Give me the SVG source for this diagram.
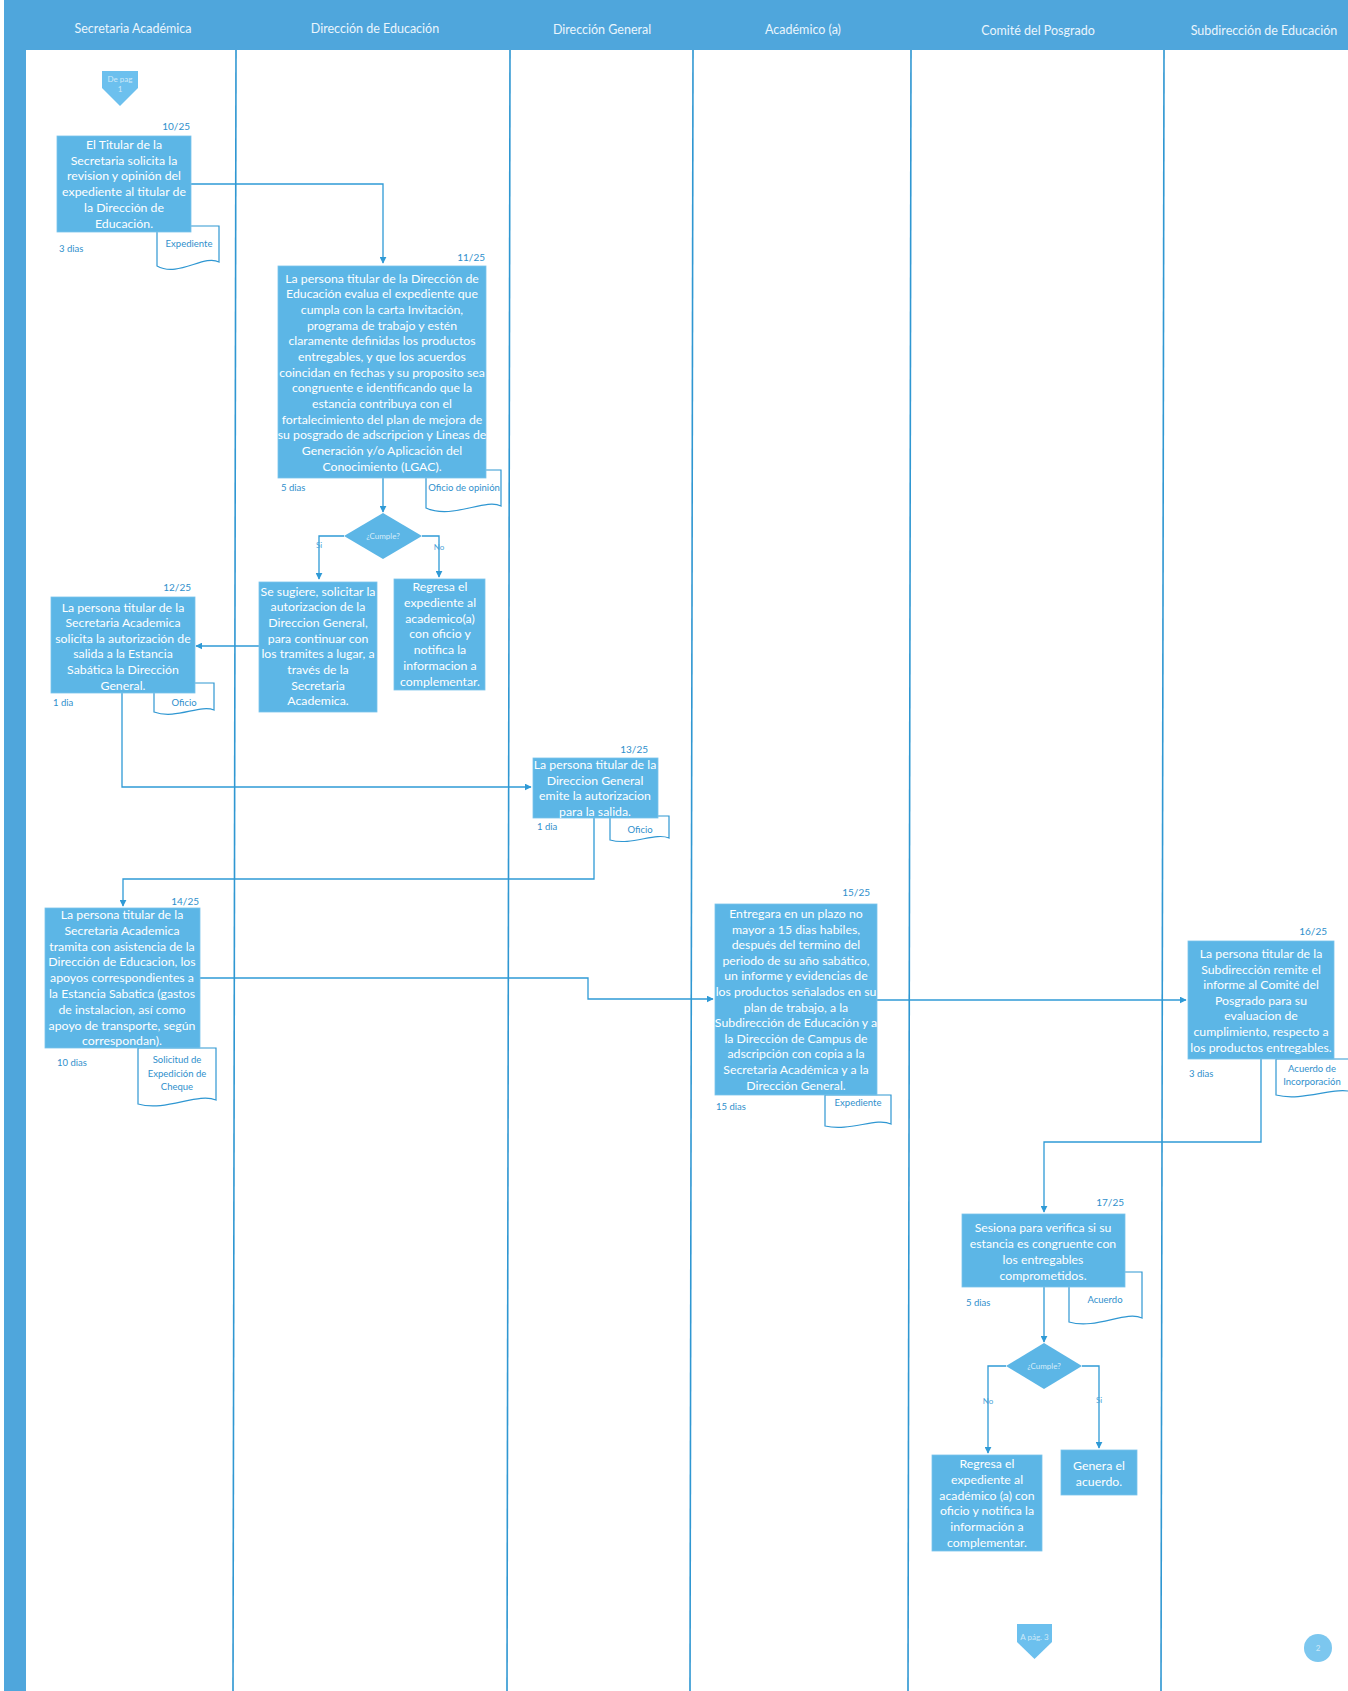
<svg xmlns="http://www.w3.org/2000/svg" width="1348" height="1691" viewBox="0 0 1348 1691">
<defs>
<marker id="ah" viewBox="0 0 10 10" refX="9" refY="5" markerWidth="7" markerHeight="7" orient="auto" markerUnits="userSpaceOnUse">
<path d="M0,0 L10,5 L0,10 Z" fill="#2f9ad6"/>
</marker>
<style>
.bg{fill:#ffffff}
.band{fill:#4fa6dc}
.lane{stroke:#2f97d2;stroke-width:1.6;fill:none}
.hd{font-family:Lato,"Liberation Sans",sans-serif;font-size:12.5px;fill:#eaf5fc;text-anchor:middle}
.box{fill:#5cb6e6;stroke:#79c3ec;stroke-width:0.8}
.bt{font-family:Lato,"Liberation Sans",sans-serif;font-size:12.3px;fill:#ffffff;text-anchor:middle}
.num{font-family:Lato,"Liberation Sans",sans-serif;font-size:10px;fill:#2f8fcc;text-anchor:end}
.dur{font-family:Lato,"Liberation Sans",sans-serif;font-size:9.5px;fill:#2f8fcc}
.doc{fill:#ffffff;stroke:#2f97d2;stroke-width:1.2}
.dt{font-family:Lato,"Liberation Sans",sans-serif;font-size:9.5px;fill:#2f8fcc;text-anchor:middle}
.con{stroke:#2f9ad6;stroke-width:1.3;fill:none}
.dia{fill:#5cb6e6}
.diat{font-family:Lato,"Liberation Sans",sans-serif;font-size:8px;fill:#d6ecf9;text-anchor:middle}
.lbl{font-family:Lato,"Liberation Sans",sans-serif;font-size:8px;fill:#4aa3d8;text-anchor:middle}
.off{fill:#6cc0ee}
.offt{font-family:Lato,"Liberation Sans",sans-serif;font-size:8px;fill:#cfe9f8;text-anchor:middle}
</style>
</defs>
<rect class="bg" x="0" y="0" width="1348" height="1691"/>
<g id="frame">
<rect class="band" x="4" y="0" width="1344" height="50"/>
<rect class="band" x="4" y="0" width="22" height="1691"/>
<line class="lane" x1="236" y1="50" x2="233" y2="1691"/>
<line class="lane" x1="510" y1="50" x2="507" y2="1691"/>
<line class="lane" x1="693" y1="50" x2="690" y2="1691"/>
<line class="lane" x1="911" y1="50" x2="908" y2="1691"/>
<line class="lane" x1="1164" y1="50" x2="1161" y2="1691"/>
<text class="hd" x="133" y="33">Secretaria Académica</text>
<text class="hd" x="375" y="33">Dirección de Educación</text>
<text class="hd" x="602" y="34">Dirección General</text>
<text class="hd" x="803" y="34">Académico (a)</text>
<text class="hd" x="1038" y="35">Comité del Posgrado</text>
<text class="hd" x="1264" y="35">Subdirección de Educación</text>
</g>
<g id="connectors">
<polyline class="con" points="191,184 383,184 383,263" marker-end="url(#ah)"/>
<polyline class="con" points="383,478 383,512" marker-end="url(#ah)"/>
<polyline class="con" points="344,536 319,536 319,579" marker-end="url(#ah)"/>
<polyline class="con" points="422,536 439,536 439,577" marker-end="url(#ah)"/>
<polyline class="con" points="259,646 196,646" marker-end="url(#ah)"/>
<polyline class="con" points="122,693 122,787 531,787" marker-end="url(#ah)"/>
<polyline class="con" points="594,818 594,879 123,879 123,906" marker-end="url(#ah)"/>
<polyline class="con" points="200,978 588,978 588,999 713,999" marker-end="url(#ah)"/>
<polyline class="con" points="877,1000 1186,1000" marker-end="url(#ah)"/>
<polyline class="con" points="1261,1059 1261,1142 1044,1142 1044,1212" marker-end="url(#ah)"/>
<polyline class="con" points="1044,1287 1044,1342" marker-end="url(#ah)"/>
<polyline class="con" points="1006,1366 988,1366 988,1453" marker-end="url(#ah)"/>
<polyline class="con" points="1082,1366 1099,1366 1099,1448" marker-end="url(#ah)"/>
<text class="lbl" x="319" y="548">Si</text>
<text class="lbl" x="439" y="550">No</text>
<text class="lbl" x="988" y="1404">No</text>
<text class="lbl" x="1099" y="1403">Si</text>
</g>
<g id="off1">
<path class="off" d="M102,71 H138 V88 L120,106 L102,88 Z"/>
<text class="offt" x="120" y="82">De pag</text>
<text class="offt" x="120" y="92">1</text>
</g>
<g id="n10">
<path class="doc" d="M157,226 H219 V262 C204,254 178,278 157,266 Z"/>
<text class="dt" x="189" y="247">Expediente</text>
<rect class="box" x="57" y="136" width="134" height="96"/>
<text class="num" x="190" y="130">10/25</text>
<text class="dur" x="59" y="252">3 dias</text>
<text class="bt" x="124" y="149">El Titular de la</text>
<text class="bt" x="124" y="164.7">Secretaria solicita la</text>
<text class="bt" x="124" y="180.4">revision y opinión del</text>
<text class="bt" x="124" y="196.1">expediente al titular de</text>
<text class="bt" x="124" y="211.8">la Dirección de</text>
<text class="bt" x="124" y="227.5">Educación.</text>
</g>
<g id="n11">
<path class="doc" d="M426,470 H501 V506 C485,498 452,520 426,508 Z"/>
<text class="dt" x="464" y="491">Oficio de opinión</text>
<rect class="box" x="278" y="266" width="208" height="212"/>
<text class="num" x="485" y="261">11/25</text>
<text class="dur" x="281" y="491">5 dias</text>
<text class="bt" x="382" y="282.5">La persona titular de la Dirección de</text>
<text class="bt" x="382" y="298.2">Educación evalua el expediente que</text>
<text class="bt" x="382" y="313.8">cumpla con la carta Invitación,</text>
<text class="bt" x="382" y="329.5">programa de trabajo y estén</text>
<text class="bt" x="382" y="345.2">claramente definidas los productos</text>
<text class="bt" x="382" y="360.8">entregables, y que los acuerdos</text>
<text class="bt" x="382" y="376.5">coincidan en fechas y su proposito sea</text>
<text class="bt" x="382" y="392.2">congruente e identificando que la</text>
<text class="bt" x="382" y="407.8">estancia contribuya con el</text>
<text class="bt" x="382" y="423.5">fortalecimiento del plan de mejora de</text>
<text class="bt" x="382" y="439.2">su posgrado de adscripcion y Lineas de</text>
<text class="bt" x="382" y="454.8">Generación y/o Aplicación del</text>
<text class="bt" x="382" y="470.5">Conocimiento (LGAC).</text>
</g>
<g id="d1">
<polygon class="dia" points="383,513 422,536 383,559 344,536"/>
<text class="diat" x="383" y="539">¿Cumple?</text>
</g>
<g id="nsug">
<rect class="box" x="259" y="582" width="118" height="130"/>
<text class="bt" x="318" y="595.5">Se sugiere, solicitar la</text>
<text class="bt" x="318" y="611.2">autorizacion de la</text>
<text class="bt" x="318" y="626.9">Direccion General,</text>
<text class="bt" x="318" y="642.6">para continuar con</text>
<text class="bt" x="318" y="658.3">los tramites a lugar, a</text>
<text class="bt" x="318" y="674">través de la</text>
<text class="bt" x="318" y="689.7">Secretaria</text>
<text class="bt" x="318" y="705.4">Academica.</text>
</g>
<g id="nreg1">
<rect class="box" x="394" y="579" width="91" height="111"/>
<text class="bt" x="440" y="591">Regresa el</text>
<text class="bt" x="440" y="606.8">expediente al</text>
<text class="bt" x="440" y="622.6">academico(a)</text>
<text class="bt" x="440" y="638.4">con oficio y</text>
<text class="bt" x="440" y="654.2">notifica la</text>
<text class="bt" x="440" y="670">informacion a</text>
<text class="bt" x="440" y="685.8">complementar.</text>
</g>
<g id="n12">
<path class="doc" d="M154,683 H214 V710 C200,704 176,720 154,712 Z"/>
<text class="dt" x="184" y="706">Oficio</text>
<rect class="box" x="51" y="597" width="144" height="96"/>
<text class="num" x="191" y="591">12/25</text>
<text class="dur" x="53" y="706">1 dia</text>
<text class="bt" x="123" y="611.5">La persona titular de la</text>
<text class="bt" x="123" y="627.1">Secretaria Academica</text>
<text class="bt" x="123" y="642.7">solicita la autorización de</text>
<text class="bt" x="123" y="658.3">salida a la Estancia</text>
<text class="bt" x="123" y="673.9">Sabática la Dirección</text>
<text class="bt" x="123" y="689.5">General.</text>
</g>
<g id="n13">
<path class="doc" d="M610,816 H669 V838 C655,832 632,846 610,840 Z"/>
<text class="dt" x="640" y="833">Oficio</text>
<rect class="box" x="533" y="758" width="125" height="60"/>
<text class="num" x="648" y="753">13/25</text>
<text class="dur" x="537" y="830">1 dia</text>
<text class="bt" x="595" y="769">La persona titular de la</text>
<text class="bt" x="595" y="784.5">Direccion General</text>
<text class="bt" x="595" y="800">emite la autorizacion</text>
<text class="bt" x="595" y="815.5">para la salida.</text>
</g>
<g id="n14">
<path class="doc" d="M138,1048 H216 V1100 C198,1092 166,1112 138,1104 Z"/>
<text class="dt" x="177" y="1063">Solicitud de</text>
<text class="dt" x="177" y="1076.5">Expedición de</text>
<text class="dt" x="177" y="1090">Cheque</text>
<rect class="box" x="45" y="908" width="155" height="140"/>
<text class="num" x="199" y="905">14/25</text>
<text class="dur" x="57" y="1066">10 dias</text>
<text class="bt" x="122" y="919">La persona titular de la</text>
<text class="bt" x="122" y="934.8">Secretaria Academica</text>
<text class="bt" x="122" y="950.6">tramita con asistencia de la</text>
<text class="bt" x="122" y="966.4">Dirección de Educacion, los</text>
<text class="bt" x="122" y="982.2">apoyos correspondientes a</text>
<text class="bt" x="122" y="998">la Estancia Sabatica (gastos</text>
<text class="bt" x="122" y="1013.8">de instalacion, así como</text>
<text class="bt" x="122" y="1029.6">apoyo de transporte, según</text>
<text class="bt" x="122" y="1045.4">correspondan).</text>
</g>
<g id="n15">
<path class="doc" d="M825,1095 H891 V1124 C876,1117 850,1132 825,1126 Z"/>
<text class="dt" x="858" y="1106">Expediente</text>
<rect class="box" x="715" y="904" width="162" height="191"/>
<text class="num" x="870" y="896">15/25</text>
<text class="dur" x="716" y="1110">15 dias</text>
<text class="bt" x="796" y="918">Entregara en un plazo no</text>
<text class="bt" x="796" y="933.6">mayor a 15 dias habiles,</text>
<text class="bt" x="796" y="949.2">después del termino del</text>
<text class="bt" x="796" y="964.8">periodo de su año sabático,</text>
<text class="bt" x="796" y="980.4">un informe y evidencias de</text>
<text class="bt" x="796" y="996">los productos señalados en su</text>
<text class="bt" x="796" y="1011.6">plan de trabajo, a la</text>
<text class="bt" x="796" y="1027.2">Subdirección de Educación y a</text>
<text class="bt" x="796" y="1042.8">la Dirección de Campus de</text>
<text class="bt" x="796" y="1058.4">adscripción con copia a la</text>
<text class="bt" x="796" y="1074">Secretaria Académica y a la</text>
<text class="bt" x="796" y="1089.6">Dirección General.</text>
</g>
<g id="n16">
<path class="doc" d="M1276,1059 H1352 V1092 C1336,1086 1302,1102 1276,1095 Z"/>
<text class="dt" x="1312" y="1072">Acuerdo de</text>
<text class="dt" x="1312" y="1085">Incorporación</text>
<rect class="box" x="1188" y="941" width="146" height="118"/>
<text class="num" x="1327" y="935">16/25</text>
<text class="dur" x="1189" y="1077">3 dias</text>
<text class="bt" x="1261" y="958">La persona titular de la</text>
<text class="bt" x="1261" y="973.6">Subdirección remite el</text>
<text class="bt" x="1261" y="989.2">informe al Comité del</text>
<text class="bt" x="1261" y="1004.8">Posgrado para su</text>
<text class="bt" x="1261" y="1020.4">evaluacion de</text>
<text class="bt" x="1261" y="1036">cumplimiento, respecto a</text>
<text class="bt" x="1261" y="1051.6">los productos entregables.</text>
</g>
<g id="n17">
<path class="doc" d="M1069,1272 H1142 V1318 C1126,1310 1096,1330 1069,1322 Z"/>
<text class="dt" x="1105" y="1303">Acuerdo</text>
<rect class="box" x="962" y="1214" width="163" height="73"/>
<text class="num" x="1124" y="1206">17/25</text>
<text class="dur" x="966" y="1306">5 dias</text>
<text class="bt" x="1043" y="1232">Sesiona para verifica si su</text>
<text class="bt" x="1043" y="1247.9">estancia es congruente con</text>
<text class="bt" x="1043" y="1263.8">los entregables</text>
<text class="bt" x="1043" y="1279.7">comprometidos.</text>
</g>
<g id="d2">
<polygon class="dia" points="1044,1343 1082,1366 1044,1389 1006,1366"/>
<text class="diat" x="1044" y="1369">¿Cumple?</text>
</g>
<g id="nreg2">
<rect class="box" x="932" y="1455" width="110" height="96"/>
<text class="bt" x="987" y="1468">Regresa el</text>
<text class="bt" x="987" y="1483.8">expediente al</text>
<text class="bt" x="987" y="1499.6">académico (a) con</text>
<text class="bt" x="987" y="1515.4">oficio y notifica la</text>
<text class="bt" x="987" y="1531.2">información a</text>
<text class="bt" x="987" y="1547">complementar.</text>
</g>
<g id="ngen">
<rect class="box" x="1061" y="1450" width="76" height="45"/>
<text class="bt" x="1099" y="1470">Genera el</text>
<text class="bt" x="1099" y="1486">acuerdo.</text>
</g>
<g id="off3">
<path class="off" d="M1017,1624 H1052 V1642 L1034.5,1659 L1017,1642 Z"/>
<text class="offt" x="1034.5" y="1640">A pág. 3</text>
</g>
<g id="page">
<circle cx="1318" cy="1648" r="14" fill="#7cc7ef"/>
<text class="offt" x="1318" y="1651">2</text>
</g>
</svg>
